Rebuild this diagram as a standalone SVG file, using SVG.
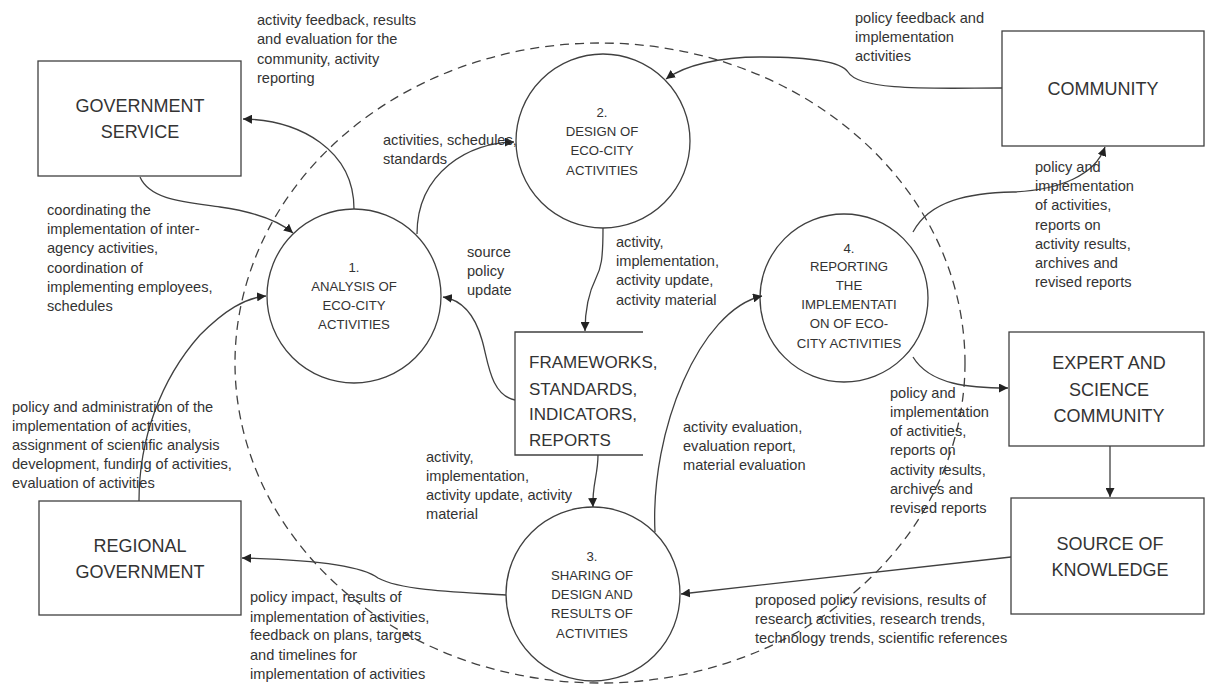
<svg xmlns="http://www.w3.org/2000/svg" width="1205" height="684" viewBox="0 0 1205 684">
<style>
  .box{fill:#fff;stroke:#404040;stroke-width:1.3}
  .proc{fill:#fff;stroke:#404040;stroke-width:1.3}
  .ds{fill:none;stroke:#404040;stroke-width:1.3}
  .bt{font-family:"Liberation Sans",Arial,sans-serif;font-size:18px;fill:#333;text-anchor:middle}
  .dt{font-family:"Liberation Sans",Arial,sans-serif;font-size:17px;fill:#333}
  .pt{font-family:"Liberation Sans",Arial,sans-serif;font-size:13.2px;fill:#333;text-anchor:middle}
  .lb{font-family:"Liberation Sans",Arial,sans-serif;font-size:14.6px;fill:#333}
  .c{fill:none;stroke:#404040;stroke-width:1.3}
  .dash{fill:none;stroke:#404040;stroke-width:1.3;stroke-dasharray:9 6}
</style>
<defs>
  <marker id="ah" viewBox="0 0 10 10" refX="10" refY="5" markerWidth="9" markerHeight="9" markerUnits="userSpaceOnUse" orient="auto">
    <path d="M0,0 L10,5 L0,10 z" fill="#222"/>
  </marker>
</defs>
<rect width="1205" height="684" fill="#fff"/>

<ellipse id="boundary" class="dash" cx="600" cy="363" rx="365" ry="320"/>

<g id="gov-service">
  <rect class="box" x="38" y="61" width="203" height="115"/>
  <text class="bt" x="140" y="112">GOVERNMENT</text>
  <text class="bt" x="140" y="138">SERVICE</text>
</g>
<g id="community">
  <rect class="box" x="1002" y="31" width="202" height="115"/>
  <text class="bt" x="1103" y="95">COMMUNITY</text>
</g>
<g id="expert">
  <rect class="box" x="1009" y="332" width="195" height="114"/>
  <text class="bt" x="1109" y="369">EXPERT AND</text>
  <text class="bt" x="1109" y="396">SCIENCE</text>
  <text class="bt" x="1109" y="422">COMMUNITY</text>
</g>
<g id="source">
  <rect class="box" x="1011" y="498" width="193" height="116"/>
  <text class="bt" x="1110" y="550">SOURCE OF</text>
  <text class="bt" x="1110" y="576">KNOWLEDGE</text>
</g>
<g id="regional">
  <rect class="box" x="39" y="501" width="202" height="114"/>
  <text class="bt" x="140" y="552">REGIONAL</text>
  <text class="bt" x="140" y="578">GOVERNMENT</text>
</g>
<g id="datastore">
  <path class="ds" d="M643,332 H515 V455 H643"/>
  <text class="dt" x="529" y="368">FRAMEWORKS,</text>
  <text class="dt" x="529" y="395">STANDARDS,</text>
  <text class="dt" x="529" y="420">INDICATORS,</text>
  <text class="dt" x="529" y="446">REPORTS</text>
</g>

<g id="p1">
  <circle class="proc" cx="354" cy="296" r="87"/>
  <text class="pt" x="354" y="272">1.</text>
  <text class="pt" x="354" y="291">ANALYSIS OF</text>
  <text class="pt" x="354" y="310">ECO-CITY</text>
  <text class="pt" x="354" y="329">ACTIVITIES</text>
</g>
<g id="p2">
  <circle class="proc" cx="603" cy="141" r="87"/>
  <text class="pt" x="602" y="117">2.</text>
  <text class="pt" x="602" y="136">DESIGN OF</text>
  <text class="pt" x="602" y="155">ECO-CITY</text>
  <text class="pt" x="602" y="175">ACTIVITIES</text>
</g>
<g id="p3">
  <circle class="proc" cx="593" cy="594" r="87"/>
  <text class="pt" x="592" y="561">3.</text>
  <text class="pt" x="592" y="580">SHARING OF</text>
  <text class="pt" x="592" y="599">DESIGN AND</text>
  <text class="pt" x="592" y="618">RESULTS OF</text>
  <text class="pt" x="592" y="638">ACTIVITIES</text>
</g>
<g id="p4">
  <circle class="proc" cx="844" cy="298" r="84"/>
  <text class="pt" x="849" y="253">4.</text>
  <text class="pt" x="849" y="271">REPORTING</text>
  <text class="pt" x="849" y="290">THE</text>
  <text class="pt" x="849" y="309">IMPLEMENTATI</text>
  <text class="pt" x="849" y="328">ON OF ECO-</text>
  <text class="pt" x="849" y="348">CITY ACTIVITIES</text>
</g>

<g id="connectors">
  <path class="c" marker-end="url(#ah)" d="M354,209 C354,150 300,120 243,119"/>
  <path class="c" marker-end="url(#ah)" d="M140,177 C150,200 185,202 220,207 C255,212 280,222 293,233"/>
  <path class="c" marker-end="url(#ah)" d="M417,234 C417,172 470,142 514,142"/>
  <path class="c" marker-end="url(#ah)" d="M603,228 C603,260 601,268 596,278 C589,292 585,310 585,331"/>
  <path class="c" marker-end="url(#ah)" d="M515,400 C490,395 488,360 482,340 C475,315 462,300 443,297"/>
  <path class="c" marker-end="url(#ah)" d="M598,455 C598,475 592,485 593,507"/>
  <path class="c" marker-end="url(#ah)" d="M655,532 C650,430 700,310 762,296"/>
  <path class="c" marker-end="url(#ah)" d="M913,232 C930,200 970,193 1013,192 C1060,190 1095,175 1105,147"/>
  <path class="c" marker-end="url(#ah)" d="M1002,88 C940,88 860,92 848,72 C840,60 800,57 760,57 C720,57 685,65 666,79"/>
  <path class="c" marker-end="url(#ah)" d="M913,357 C930,385 970,388 1008,388"/>
  <path class="c" marker-end="url(#ah)" d="M1110,446 L1110,497"/>
  <path class="c" marker-end="url(#ah)" d="M1011,557 L681,594"/>
  <path class="c" marker-end="url(#ah)" d="M506,595 C450,592 400,590 378,578 C365,568 330,560 242,558"/>
  <path class="c" marker-end="url(#ah)" d="M139,501 C139,440 160,380 200,335 C225,310 245,298 266,296"/>
</g>

<g id="labels">
  <text class="lb" x="257" y="25">activity feedback, results</text>
  <text class="lb" x="257" y="44">and evaluation for the</text>
  <text class="lb" x="257" y="64">community,  activity</text>
  <text class="lb" x="257" y="83">reporting</text>

  <text class="lb" x="855" y="23">policy feedback and</text>
  <text class="lb" x="855" y="42">implementation</text>
  <text class="lb" x="855" y="61">activities</text>

  <text class="lb" x="383" y="145">activities, schedules,</text>
  <text class="lb" x="383" y="164">standards</text>

  <text class="lb" x="47" y="215">coordinating the</text>
  <text class="lb" x="47" y="234">implementation  of inter-</text>
  <text class="lb" x="47" y="253">agency activities,</text>
  <text class="lb" x="47" y="273">coordination of</text>
  <text class="lb" x="47" y="292">implementing  employees,</text>
  <text class="lb" x="47" y="311">schedules</text>

  <text class="lb" x="467" y="257">source</text>
  <text class="lb" x="467" y="276">policy</text>
  <text class="lb" x="467" y="295">update</text>

  <text class="lb" x="616" y="247">activity,</text>
  <text class="lb" x="616" y="266">implementation,</text>
  <text class="lb" x="616" y="285">activity update,</text>
  <text class="lb" x="616" y="305">activity material</text>

  <text class="lb" x="1035" y="172">policy and</text>
  <text class="lb" x="1035" y="191">implementation</text>
  <text class="lb" x="1035" y="210">of activities,</text>
  <text class="lb" x="1035" y="230">reports on</text>
  <text class="lb" x="1035" y="249">activity results,</text>
  <text class="lb" x="1035" y="268">archives and</text>
  <text class="lb" x="1035" y="287">revised reports</text>

  <text class="lb" x="12" y="412">policy and administration of the</text>
  <text class="lb" x="12" y="431">implementation  of activities,</text>
  <text class="lb" x="12" y="450">assignment of scientific analysis</text>
  <text class="lb" x="12" y="469">development,  funding of activities,</text>
  <text class="lb" x="12" y="488">evaluation of activities</text>

  <text class="lb" x="426" y="462">activity,</text>
  <text class="lb" x="426" y="481">implementation,</text>
  <text class="lb" x="426" y="500">activity update,  activity</text>
  <text class="lb" x="426" y="519">material</text>

  <text class="lb" x="683" y="432">activity evaluation,</text>
  <text class="lb" x="683" y="451">evaluation report,</text>
  <text class="lb" x="683" y="470">material evaluation</text>

  <text class="lb" x="890" y="398">policy and</text>
  <text class="lb" x="890" y="417">implementation</text>
  <text class="lb" x="890" y="436">of activities,</text>
  <text class="lb" x="890" y="455">reports on</text>
  <text class="lb" x="890" y="475">activity results,</text>
  <text class="lb" x="890" y="494">archives and</text>
  <text class="lb" x="890" y="513">revised reports</text>

  <text class="lb" x="755" y="605">proposed policy revisions, results of</text>
  <text class="lb" x="755" y="624">research activities, research trends,</text>
  <text class="lb" x="755" y="643">technology trends,  scientific references</text>

  <text class="lb" x="250" y="602">policy impact, results of</text>
  <text class="lb" x="250" y="622">implementation  of activities,</text>
  <text class="lb" x="250" y="640">feedback on plans, targets</text>
  <text class="lb" x="250" y="660">and timelines for</text>
  <text class="lb" x="250" y="679">implementation  of activities</text>
</g>
</svg>
